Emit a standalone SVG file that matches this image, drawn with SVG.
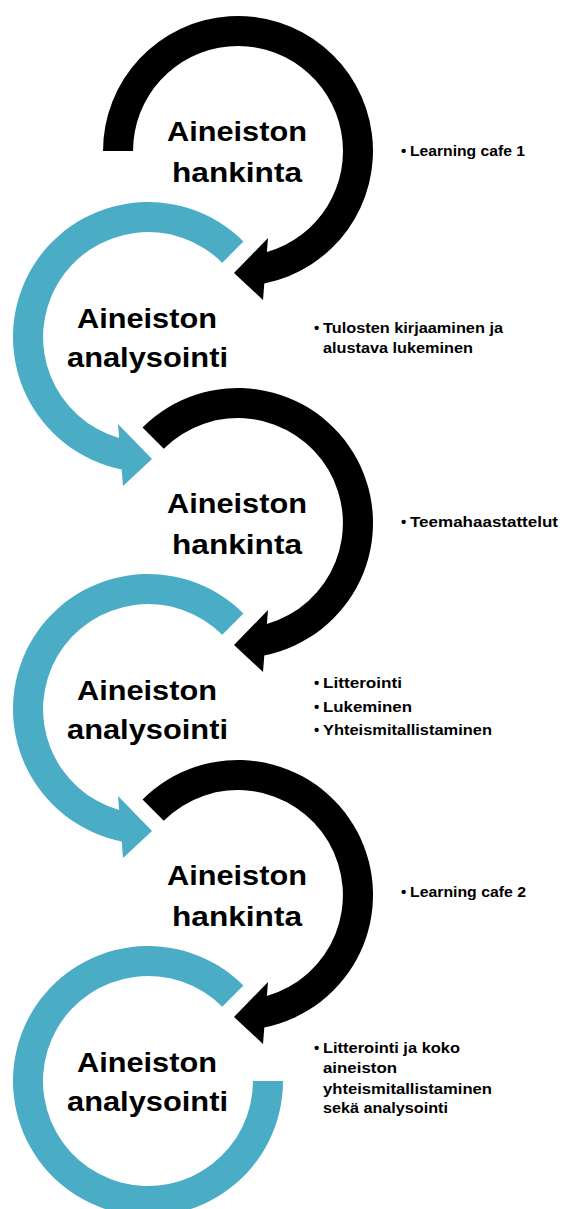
<svg xmlns="http://www.w3.org/2000/svg" xmlns:xlink="http://www.w3.org/1999/xlink" width="562" height="1209" viewBox="0 0 562 1209">
<style>
.blk{fill:#000000}
.blu{fill:#4BACC6}
.big{font-family:"Liberation Sans",Arial,sans-serif;font-weight:bold;font-size:27px;fill:#000}
.sm{font-family:"Liberation Sans Narrow","Liberation Sans",Arial,sans-serif;font-weight:bold;font-size:15px;fill:#000}
</style>
<rect width="562" height="1209" fill="#ffffff"/>
<g id="connectors">
  <path class="blk" transform="translate(238,151)" d="M -135 0 A 135 135 0 1 1 26.3 132.4 L 25 149 L -4 122 L 30 87 L 28.9 101 A 105 105 0 1 0 -105 0 Z"/>
  <path class="blu" transform="translate(148,337)" d="M 95.46 -95.46 A 135 135 0 1 0 -26.3 132.4 L -25 149 L 4 122 L -30 87 L -28.9 101 A 105 105 0 1 1 74.25 -74.25 Z"/>
  <path class="blk" transform="translate(238,523)" d="M -95.46 -95.46 A 135 135 0 1 1 26.3 132.4 L 25 149 L -4 122 L 30 87 L 28.9 101 A 105 105 0 1 0 -74.25 -74.25 Z"/>
  <path class="blu" transform="translate(148,709)" d="M 95.46 -95.46 A 135 135 0 1 0 -26.3 132.4 L -25 149 L 4 122 L -30 87 L -28.9 101 A 105 105 0 1 1 74.25 -74.25 Z"/>
  <path class="blk" transform="translate(238,895)" d="M -95.46 -95.46 A 135 135 0 1 1 26.3 132.4 L 25 149 L -4 122 L 30 87 L 28.9 101 A 105 105 0 1 0 -74.25 -74.25 Z"/>
  <path class="blu" transform="translate(148,1081)" d="M 95.46 -95.46 A 135 135 0 1 0 135 0 L 105 0 A 105 105 0 1 1 74.25 -74.25 Z"/>
</g>
<g id="stage1">
  <text class="big" x="167" y="141" textLength="140" lengthAdjust="spacingAndGlyphs">Aineiston</text>
  <text class="big" x="172" y="182" textLength="130" lengthAdjust="spacingAndGlyphs">hankinta</text>
</g>
<g id="stage2">
  <text class="big" x="77" y="328" textLength="140" lengthAdjust="spacingAndGlyphs">Aineiston</text>
  <text class="big" x="67" y="367" textLength="161" lengthAdjust="spacingAndGlyphs">analysointi</text>
</g>
<g id="stage3">
  <text class="big" x="167" y="513" textLength="140" lengthAdjust="spacingAndGlyphs">Aineiston</text>
  <text class="big" x="172" y="554" textLength="130" lengthAdjust="spacingAndGlyphs">hankinta</text>
</g>
<g id="stage4">
  <text class="big" x="77" y="700" textLength="140" lengthAdjust="spacingAndGlyphs">Aineiston</text>
  <text class="big" x="67" y="739" textLength="161" lengthAdjust="spacingAndGlyphs">analysointi</text>
</g>
<g id="stage5">
  <text class="big" x="167" y="885" textLength="140" lengthAdjust="spacingAndGlyphs">Aineiston</text>
  <text class="big" x="172" y="926" textLength="130" lengthAdjust="spacingAndGlyphs">hankinta</text>
</g>
<g id="stage6">
  <text class="big" x="77" y="1072" textLength="140" lengthAdjust="spacingAndGlyphs">Aineiston</text>
  <text class="big" x="67" y="1111" textLength="161" lengthAdjust="spacingAndGlyphs">analysointi</text>
</g>
<g id="note1">
  <text class="sm" x="401" y="156">•</text>
  <text class="sm" x="410" y="156" textLength="115" lengthAdjust="spacingAndGlyphs">Learning cafe 1</text>
</g>
<g id="note2">
  <text class="sm" x="314" y="333">•</text>
  <text class="sm" x="323" y="333" textLength="180" lengthAdjust="spacingAndGlyphs">Tulosten kirjaaminen ja</text>
  <text class="sm" x="323" y="353" textLength="150" lengthAdjust="spacingAndGlyphs">alustava lukeminen</text>
</g>
<g id="note3">
  <text class="sm" x="401" y="527">•</text>
  <text class="sm" x="410" y="527" textLength="148" lengthAdjust="spacingAndGlyphs">Teemahaastattelut</text>
</g>
<g id="note4">
  <text class="sm" x="314" y="688">•</text>
  <text class="sm" x="323" y="688" textLength="79" lengthAdjust="spacingAndGlyphs">Litterointi</text>
  <text class="sm" x="314" y="712">•</text>
  <text class="sm" x="323" y="712" textLength="89" lengthAdjust="spacingAndGlyphs">Lukeminen</text>
  <text class="sm" x="314" y="735">•</text>
  <text class="sm" x="323" y="735" textLength="169" lengthAdjust="spacingAndGlyphs">Yhteismitallistaminen</text>
</g>
<g id="note5">
  <text class="sm" x="401" y="897">•</text>
  <text class="sm" x="410" y="897" textLength="116" lengthAdjust="spacingAndGlyphs">Learning cafe 2</text>
</g>
<g id="note6">
  <text class="sm" x="314" y="1053">•</text>
  <text class="sm" x="323" y="1053" textLength="137" lengthAdjust="spacingAndGlyphs">Litterointi ja koko</text>
  <text class="sm" x="323" y="1073" textLength="74" lengthAdjust="spacingAndGlyphs">aineiston</text>
  <text class="sm" x="323" y="1094" textLength="169" lengthAdjust="spacingAndGlyphs">yhteismitallistaminen</text>
  <text class="sm" x="323" y="1113" textLength="125" lengthAdjust="spacingAndGlyphs">sekä analysointi</text>
</g>
</svg>
